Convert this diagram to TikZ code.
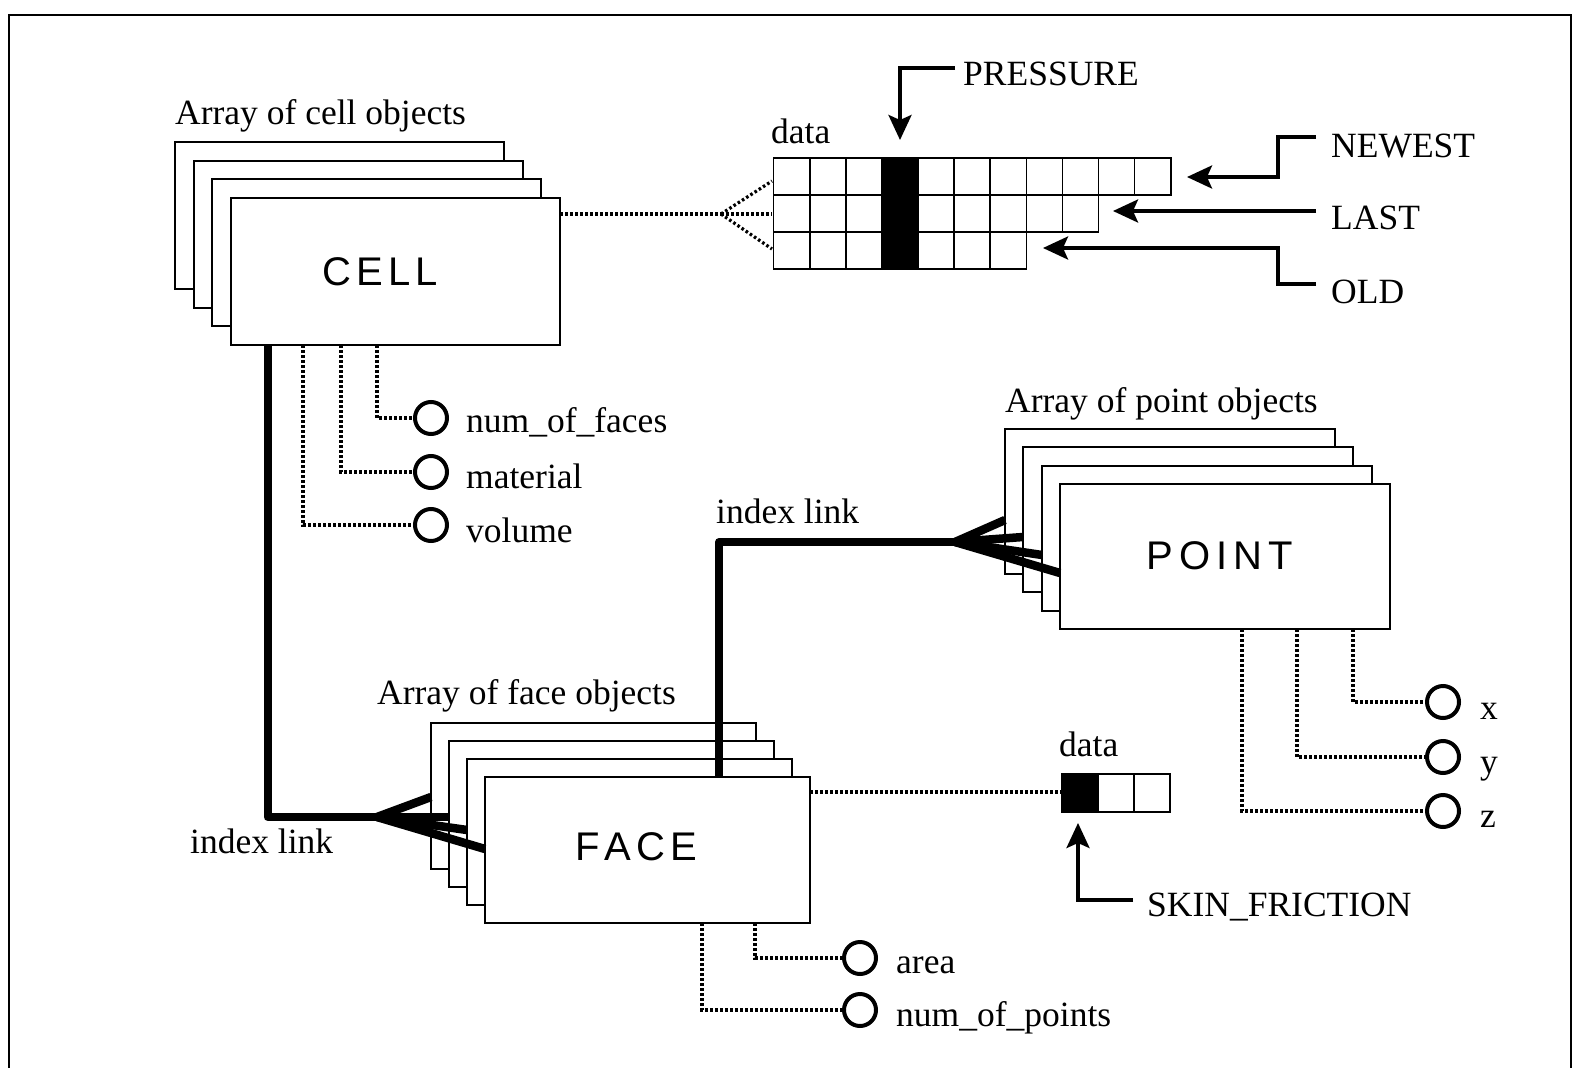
\documentclass[tikz,border=0pt]{standalone}
\usepackage{fontspec}
\setmainfont{Liberation Serif}
\newfontfamily\boxfont{Liberation Sans}
\usetikzlibrary{arrows.meta,calc}
\begin{document}
\begin{tikzpicture}[x=1pt,y=-1pt,
  objbox/.style={draw, line width=1.8pt, fill=white, minimum width=329pt, minimum height=146pt, inner sep=0pt, outer sep=0pt, anchor=north west},
  lbl/.style={inner sep=0pt, anchor=base west, font=\fontsize{35.5}{40}\selectfont},
  boxlbl/.style={inner sep=0pt, font=\boxfont\fontsize{40}{44}\selectfont},
  dots/.style={line width=3.2pt, dash pattern=on 2.6pt off 2.4pt},
  link/.style={line width=8pt, line join=round},
  fan/.style={line width=8.5pt},
  ptr/.style={line width=3.6pt, -{Stealth[length=25pt,width=23pt,inset=5pt]}},
  attr/.style={circle, draw, line width=4pt, minimum size=32pt, inner sep=0pt},
  gridc/.style={line width=1.6pt}
]
\useasboundingbox (0,0) rectangle (1574,1068);
% frame
\draw[line width=2pt] (9,1100) -- (9,15) -- (1571,15) -- (1571,1100);

% ---- CELL stack
\node[objbox, minimum height=147pt] (cell1) at (175,142) {};
\node[objbox, minimum height=147pt] (cell2) at (194,161) {};
\node[objbox, minimum height=147pt] (cell3) at (212,179) {};
\node[objbox, minimum height=147pt] (cell) at (231,198) {};
\node[boxlbl] (celltxt) at (380,272) {C\kern5pt E\kern5pt L\kern5pt L};
\node[lbl] (cellarr) at (175,124) {Array of cell objects};

% ---- FACE stack
\node[objbox, minimum width=325pt] (face1) at (431,723) {};
\node[objbox, minimum width=325pt] (face2) at (449,741) {};
\node[objbox, minimum width=325pt] (face3) at (467,759) {};
\node[objbox, minimum width=325pt] (face) at (485,777) {};
\node[boxlbl] (facetxt) at (636,847) {F\kern5pt A\kern5pt C\kern5pt E};
\node[lbl] (facearr) at (377,704) {Array of face objects};

% ---- POINT stack
\node[objbox, minimum width=330pt, minimum height=145pt] (point1) at (1005,429) {};
\node[objbox, minimum width=330pt, minimum height=145pt] (point2) at (1023,447) {};
\node[objbox, minimum width=330pt, minimum height=145pt] (point3) at (1042,466) {};
\node[objbox, minimum width=330pt, minimum height=145pt] (point) at (1060,484) {};
\node[boxlbl] (pointtxt) at (1220,556) {P\kern6pt O\kern6pt I\kern6pt N\kern6pt T};
\node[lbl] (pointarr) at (1005,412) {Array of point objects};

% ---- cell data grid
\fill (882,158) rectangle (918.2,269);
\foreach \c in {0,...,10} \draw[gridc] (773.6+36.1*\c,158) rectangle ++(36.1,37);
\foreach \c in {0,...,8} \draw[gridc] (773.6+36.1*\c,195) rectangle ++(36.1,37);
\foreach \c in {0,...,6} \draw[gridc] (773.6+36.1*\c,232) rectangle ++(36.1,37);
\node[lbl] (data1) at (771,143) {data};

\coordinate (gsplit) at (721,214);
\draw[dots] (cell.north east |- gsplit) -- (gsplit);
\draw[dots] (gsplit) -- (772,181);
\draw[dots] (gsplit) -- (772,214);
\draw[dots] (gsplit) -- (772,249);

% pointers
\node[lbl] (pres) at (963,85) {PRESSURE};
\draw[ptr] (955,68) -- (900,68) -- (900,140);
\node[lbl] (newest) at (1331,157) {NEWEST};
\node[lbl] (last) at (1331,229) {LAST};
\node[lbl] (old) at (1331,303) {OLD};
\draw[ptr] (1316,137) -- (1278,137) -- (1278,177) -- (1187,177);
\draw[ptr] (1316,211) -- (1113,211);
\draw[ptr] (1316,284) -- (1278,284) -- (1278,248) -- (1043,248);

% ---- face data grid
\fill (1062,774) rectangle (1098,812);
\foreach \c in {0,1,2} \draw[gridc] (1062+36*\c,774) rectangle ++(36,38);
\node[lbl] (data2) at (1059,756) {data};
\draw[dots] ([yshift=-15pt]face.north east) -- (1061,792);
\node[lbl] (skin) at (1147,916) {SKIN\_FRICTION};
\draw[ptr] (1133,900) -- (1078,900) -- (1078,823);

% ---- cell attributes
\node[attr] (nof) at (431,418) {};
\node[attr] (mat) at (431,472) {};
\node[attr] (vol) at (431,525) {};
\draw[dots] ([xshift=146pt]cell.south west) |- (nof.west);
\draw[dots] ([xshift=110pt]cell.south west) |- (mat.west);
\draw[dots] ([xshift=72pt]cell.south west) |- (vol.west);
\node[lbl] (lnof) at (466,432) {num\_of\_faces};
\node[lbl] (lmat) at (466,488) {material};
\node[lbl] (lvol) at (466,542) {volume};

% ---- face attributes
\node[attr] (area) at (860,958) {};
\node[attr] (nop) at (860,1010) {};
\draw[dots] ([xshift=270pt]face.south west) |- (area.west);
\draw[dots] ([xshift=217pt]face.south west) |- (nop.west);
\node[lbl] (larea) at (896,973) {area};
\node[lbl] (lnop) at (896,1026) {num\_of\_points};

% ---- point attributes
\node[attr] (px) at (1443,702) {};
\node[attr] (py) at (1443,757) {};
\node[attr] (pz) at (1443,811) {};
\draw[dots] ([xshift=293pt]point.south west) |- (px.west);
\draw[dots] ([xshift=237pt]point.south west) |- (py.west);
\draw[dots] ([xshift=182pt]point.south west) |- (pz.west);
\node[lbl] (lx) at (1480,719) {x};
\node[lbl] (ly) at (1480,773) {y};
\node[lbl] (lz) at (1480,827) {z};

% ---- index links
\coordinate (fv1) at (377,817);
\draw[link] ([xshift=36.5pt]cell.south west) |- (fv1);
\draw[fan] (fv1) -- (face1.west |- 0,797);
\draw[fan] (fv1) -- (face2.west |- 0,817);
\draw[fan] (fv1) -- (face3.west |- 0,830);
\draw[fan] (fv1) -- (face.west |- 0,849);
\node[lbl] (il1) at (190,853) {index link};

\coordinate (fv2) at (955,542);
\draw[link] ([xshift=234pt]face.north west) |- (fv2);
\draw[fan] (fv2) -- (point1.west |- 0,520);
\draw[fan] (fv2) -- (point2.west |- 0,537);
\draw[fan] (fv2) -- (point3.west |- 0,555);
\draw[fan] (fv2) -- (point.west |- 0,573);
\node[lbl] (il2) at (716,523) {index link};
\end{tikzpicture}
\end{document}
